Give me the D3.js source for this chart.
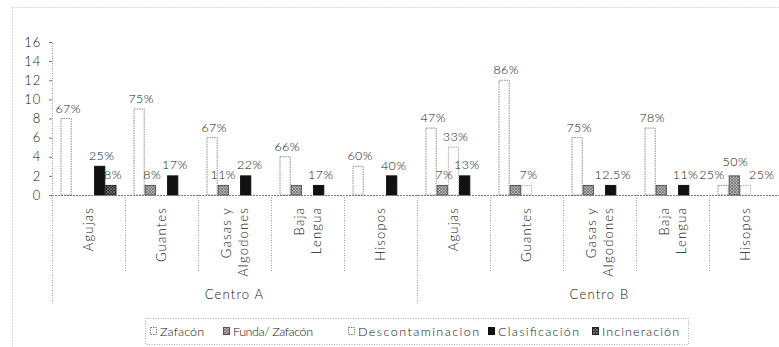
<!DOCTYPE html>
<html>
<head>
<meta charset="utf-8">
<script src="https://cdn.jsdelivr.net/npm/d3@7"></script>
<style>
  html, body { margin: 0; padding: 0; background: #fff; }
  svg text { font-family: "Lato", "Liberation Sans", Arial, sans-serif; font-weight: 300; fill: #151515; }
</style>
</head>
<body>
<svg id="chart" width="779" height="347"></svg>
<script>
// Waste handling per item type at two centres
const groups = ["Centro A", "Centro B"];
const categories = ["Agujas", "Guantes", "Gasas y\nAlgodones", "Baja\nLengua", "Hisopos"];
const seriesNames = ["Zafacón", "Funda/ Zafacón", "Descontaminacion", "Clasificación", "Incineración"];

// values: Centro A (5 items) then Centro B (5 items)
const zafaconValues   = [8, 9, 6, 4, 3, 7, 12, 6, 7, 1];
const fundaValues     = [0, 1, 1, 1, 0, 1, 1, 1, 1, 2];
const descontValues   = [0, 0, 0, 0, 0, 5, 1, 0, 0, 1];
const clasifValues    = [3, 2, 2, 1, 2, 2, 0, 1, 1, 0];
const incinerValues   = [1, 0, 0, 0, 0, 0, 0, 0, 0, 0];

// percentage labels printed above bars ("" = no label)
const zafaconLabels = ["67%", "75%", "67%", "66%", "60%", "47%", "86%", "75%", "78%", "25%"];
const fundaLabels   = ["", "8%", "11%", "", "", "7%", "", "", "", "50%"];
const descontLabels = ["", "", "", "", "", "33%", "7%", "", "", "25%"];
const clasifLabels  = ["25%", "17%", "22%", "17%", "40%", "13%", "", "12.5%", "11%", ""];
const incinerLabels = ["8%", "", "", "", "", "", "", "", "", ""];

const yTicks = [0, 2, 4, 6, 8, 10, 12, 14, 16];

const seriesValues = [zafaconValues, fundaValues, descontValues, clasifValues, incinerValues];
const seriesLabels = [zafaconLabels, fundaLabels, descontLabels, clasifLabels, incinerLabels];

const svg = d3.select("#chart");

// patterns for hatched series
const defs = svg.append("defs");
function hatch(id, bg, line) {
  const p = defs.append("pattern").attr("id", id).attr("patternUnits", "userSpaceOnUse")
    .attr("width", 3).attr("height", 3);
  p.append("rect").attr("width", 3).attr("height", 3).attr("fill", bg);
  p.append("path").attr("d", "M0,0L3,3M3,0L0,3").attr("stroke", line).attr("stroke-width", 0.7);
}
hatch("pFunda", "#b4b4b4", "#6a6a6a");
hatch("pIncin", "#2a2a2a", "#8a8a8a");

const fills   = ["#ffffff", "url(#pFunda)", "#ffffff", "#111111", "url(#pIncin)"];
const strokes = ["#8a8a8a", "#555555", "#aaaaaa", "#111111", "#222222"];
const dashes  = ["1.5,1", null, "1.5,1", null, null];

const margin = { left: 52, top: 42, right: 782, bottom: 195 };

// outer frame (dotted, runs past the right/bottom edge)
svg.append("rect").attr("x", 12.5).attr("y", 7.5).attr("width", 820).attr("height", 400)
  .attr("fill", "none").attr("stroke", "#b8b8b8").attr("stroke-dasharray", "1,2");

const y = d3.scaleLinear().domain([0, 16]).range([margin.bottom, margin.top]);

const keys = [];
groups.forEach(g => categories.forEach(c => keys.push(g + "|" + c)));
const x = d3.scaleBand().domain(keys).range([margin.left, margin.right]).paddingInner(0).paddingOuter(0);
const xs = d3.scaleBand().domain(d3.range(seriesNames.length)).range([0, x.bandwidth()])
  .paddingInner(0).paddingOuter(0.76);

// y axis
const yAxis = d3.axisLeft(y).tickValues(yTicks).tickSize(3).tickPadding(8);
const yg = svg.append("g").attr("transform", `translate(${margin.left},0)`).call(yAxis);
yg.select(".domain").attr("stroke", "#999").attr("stroke-dasharray", "1,1.5");
yg.selectAll(".tick line").attr("stroke", "#777");
yg.selectAll(".tick text").attr("font-size", 13).attr("fill", "#151515")
  .attr("font-family", null).attr("letter-spacing", 0.8);

// bars
const barData = [];
seriesValues.forEach((vals, s) => vals.forEach((v, i) => {
  barData.push({ s, key: keys[i], v, label: seriesLabels[s][i] });
}));

svg.append("g").selectAll("rect").data(barData.filter(d => d.v > 0)).join("rect")
  .attr("x", d => x(d.key) + xs(d.s) + 0.5)
  .attr("y", d => y(d.v))
  .attr("width", xs.bandwidth() - 1)
  .attr("height", d => y(0) - y(d.v))
  .attr("fill", d => fills[d.s])
  .attr("stroke", d => strokes[d.s])
  .attr("stroke-width", 1)
  .attr("stroke-dasharray", d => dashes[d.s]);

// value labels
const labels = svg.append("g").selectAll("text")
  .data(barData.filter(d => d.v > 0 && d.label)).join("text")
  .attr("x", d => x(d.key) + xs(d.s) + xs.bandwidth() / 2 + 2)
  .attr("y", d => y(d.v) - 6)
  .attr("text-anchor", "middle")
  .attr("font-size", 12.5)
  .attr("letter-spacing", 0.4)
  .text(d => d.label);

// spread labels that collide: push apart sideways, lift the taller bar's label a little
const nodes = labels.nodes().map(n => {
  const b = n.getBBox();
  const d = d3.select(n).datum();
  return { n, v: d.v, x: +n.getAttribute("x"), y: +n.getAttribute("y"), w: b.width, h: b.height };
});
for (let iter = 0; iter < 30; iter++) {
  let moved = false;
  for (let i = 0; i < nodes.length; i++) {
    for (let j = i + 1; j < nodes.length; j++) {
      const a = nodes[i], b = nodes[j];
      const ox = (a.w + b.w) / 2 + 1 - Math.abs(a.x - b.x);
      const oy = (a.h + b.h) / 2 - 2 - Math.abs(a.y - b.y);
      if (ox > 0 && oy > 0) {
        const dir = a.x <= b.x ? 1 : -1;
        a.x -= dir * ox / 2; b.x += dir * ox / 2;
        if (a.v > b.v) a.y -= 1; else if (b.v > a.v) b.y -= 1;
        moved = true;
      }
    }
  }
  if (!moved) break;
}
nodes.forEach(d => { d.n.setAttribute("x", d.x); d.n.setAttribute("y", d.y); });

// baseline
svg.append("line").attr("x1", margin.left).attr("x2", margin.right)
  .attr("y1", y(0) + 0.5).attr("y2", y(0) + 0.5)
  .attr("stroke", "#777").attr("stroke-dasharray", "2,1");

// category separators and group separators
const sep = svg.append("g").attr("stroke", "#9a9a9a").attr("stroke-dasharray", "1,1.5");
keys.forEach((k, i) => {
  const xx = Math.round(x(k)) + 0.5;
  const long = i % categories.length === 0;
  sep.append("line").attr("x1", xx).attr("x2", xx).attr("y1", y(0)).attr("y2", long ? 304 : 271);
});
sep.append("line").attr("x1", margin.right - 0.5).attr("x2", margin.right - 0.5).attr("y1", y(0)).attr("y2", 304);

// rotated category labels
keys.forEach((k, i) => {
  const cat = categories[i % categories.length];
  const lines = cat.split("\n");
  const cx = x(k) + x.bandwidth() / 2;
  const t = svg.append("text")
    .attr("transform", `translate(${cx},207) rotate(-90)`)
    .attr("text-anchor", "end")
    .attr("font-size", 13)
    .attr("letter-spacing", 1.2);
  lines.forEach((ln, j) => {
    const off = (j - (lines.length - 1) / 2) * 17;
    t.append("tspan").attr("x", 0).attr("y", off).attr("dy", "0.35em").text(ln);
  });
});

// group labels
groups.forEach(g => {
  const first = x(g + "|" + categories[0]);
  const last = x(g + "|" + categories[categories.length - 1]) + x.bandwidth();
  svg.append("text").attr("x", (first + last) / 2).attr("y", 299)
    .attr("text-anchor", "middle").attr("font-size", 13).attr("letter-spacing", 1.2)
    .text(g);
});

// legend
const legendX = [150, 223, 348, 488, 592];
const legendW = [44, 80, 121, 81, 77];
const lg = svg.append("g");
lg.append("rect").attr("x", 145.5).attr("y", 318.5).attr("width", 543).attr("height", 26)
  .attr("fill", "none").attr("stroke", "#aaa").attr("stroke-dasharray", "1,1.5");
seriesNames.forEach((n, s) => {
  lg.append("rect").attr("x", legendX[s] + 0.5).attr("y", 327.5).attr("width", 6).attr("height", 7)
    .attr("fill", fills[s]).attr("stroke", s === 0 || s === 2 ? "#777" : strokes[s])
    .attr("stroke-dasharray", dashes[s]);
  lg.append("text").attr("x", legendX[s] + 10).attr("y", 335.5).attr("font-size", 12.5)
    .attr("textLength", legendW[s]).attr("lengthAdjust", "spacing")
    .text(n);
});
</script>
</body>
</html>
